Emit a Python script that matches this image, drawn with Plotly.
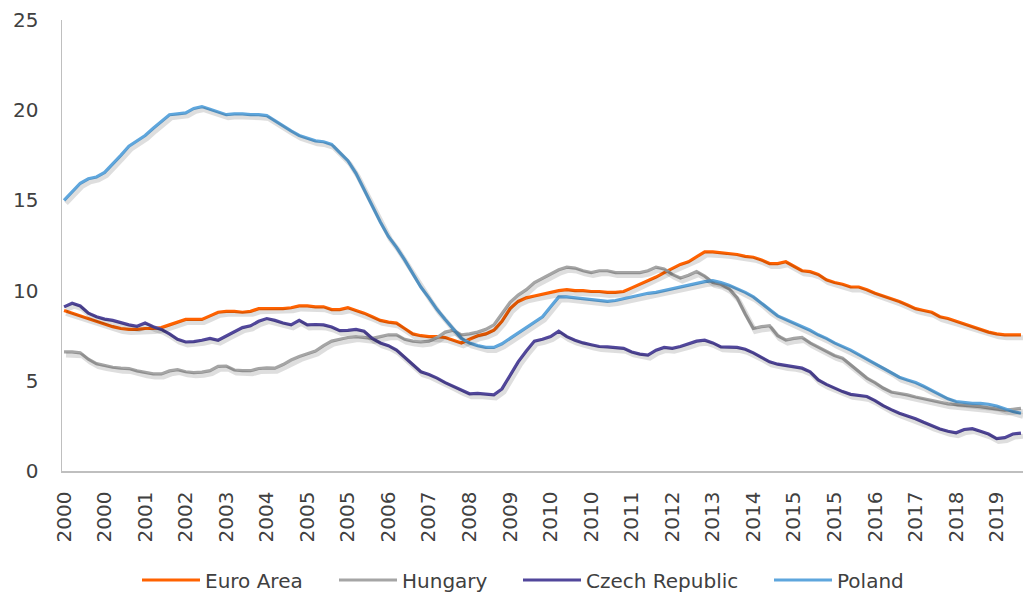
import plotly.graph_objects as go

# Monthly data Jan 2000 - Sep 2019, sampled every 2 months (month index 0,2,...,236)
month_index = list(range(0, 237, 2))

euro_area = [8.9, 8.75, 8.6, 8.45, 8.3, 8.15, 8.0, 7.9, 7.85, 7.85,
             7.9, 7.9, 7.95, 8.1, 8.25, 8.4, 8.4, 8.4, 8.6, 8.8,
             8.85, 8.85, 8.8, 8.85, 9.0, 9.0, 9.0, 9.0, 9.05, 9.15,
             9.15, 9.1, 9.1, 8.95, 8.95, 9.05, 8.9, 8.75, 8.55, 8.35,
             8.25, 8.2, 7.9, 7.6, 7.5, 7.45, 7.45, 7.4, 7.25, 7.1,
             7.3, 7.5, 7.6, 7.8, 8.3, 9.0, 9.4, 9.6, 9.7, 9.8,
             9.9, 10.0, 10.05, 10.0, 10.0, 9.95, 9.95, 9.9, 9.9, 9.95,
             10.15, 10.35, 10.55, 10.75, 11.0, 11.25, 11.45, 11.6, 11.85, 12.15,
             12.15, 12.1, 12.05, 12.0, 11.9, 11.85, 11.7, 11.5, 11.5, 11.6,
             11.35, 11.1, 11.05, 10.9, 10.6, 10.45, 10.35, 10.2, 10.2, 10.05,
             9.85, 9.7, 9.55, 9.4, 9.2, 9.0, 8.9, 8.8, 8.55, 8.45,
             8.3, 8.15, 8.0, 7.85, 7.7, 7.6, 7.55, 7.55, 7.55]

hungary = [6.6, 6.6, 6.55, 6.2, 5.95, 5.85, 5.75, 5.7, 5.68, 5.55,
           5.45, 5.38, 5.38, 5.55, 5.62, 5.5, 5.45, 5.48, 5.56, 5.8,
           5.82, 5.6, 5.56, 5.56, 5.68, 5.72, 5.7, 5.9, 6.15, 6.35,
           6.5, 6.65, 6.95, 7.2, 7.3, 7.4, 7.45, 7.4, 7.35, 7.45,
           7.55, 7.55, 7.3, 7.2, 7.15, 7.2, 7.4, 7.7, 7.8, 7.55,
           7.6, 7.7, 7.85, 8.1, 8.75, 9.35, 9.75, 10.05, 10.45, 10.7,
           10.9, 11.15, 11.3, 11.25, 11.1, 11.0, 11.1, 11.1, 11.0, 11.0,
           11.0, 11.0, 11.1, 11.3, 11.2, 10.9, 10.7, 10.85, 11.05, 10.8,
           10.45, 10.35, 10.1, 9.6, 8.7, 7.9, 8.0, 8.05, 7.5, 7.26,
           7.35, 7.4, 7.1, 6.85, 6.6, 6.4, 6.25, 5.9, 5.5, 5.15,
           4.9, 4.6, 4.38, 4.32, 4.22, 4.1, 4.0, 3.88, 3.78, 3.72,
           3.68, 3.65, 3.62, 3.57, 3.5, 3.42, 3.38, 3.42, 3.47]

czech_republic = [9.1, 9.3, 9.15, 8.75, 8.55, 8.42, 8.35, 8.22, 8.1, 8.02,
                  8.2, 8.0, 7.85, 7.6, 7.3, 7.15, 7.17, 7.25, 7.35, 7.25,
                  7.5, 7.7, 7.95, 8.05, 8.3, 8.45, 8.35, 8.2, 8.1, 8.35,
                  8.1, 8.12, 8.1, 7.98, 7.78, 7.8, 7.85, 7.75, 7.35, 7.1,
                  6.95, 6.7, 6.3, 5.85, 5.5, 5.35, 5.15, 4.9, 4.7, 4.47,
                  4.28, 4.3, 4.25, 4.22, 4.55, 5.3, 6.05, 6.65, 7.2, 7.3,
                  7.45, 7.75, 7.45, 7.25, 7.1, 7.0, 6.9, 6.88, 6.86, 6.8,
                  6.6, 6.48, 6.43, 6.7, 6.85, 6.8, 6.9, 7.05, 7.2, 7.25,
                  7.1, 6.88, 6.86, 6.85, 6.75, 6.55, 6.3, 6.05, 5.92, 5.85,
                  5.8, 5.7, 5.5, 5.05, 4.8, 4.6, 4.4, 4.25, 4.2, 4.13,
                  3.9, 3.62, 3.4, 3.2, 3.05, 2.9, 2.7, 2.5, 2.33, 2.2,
                  2.12, 2.3, 2.35, 2.2, 2.05, 1.8, 1.85, 2.05, 2.1]

poland = [15.0, 15.5, 15.95, 16.2, 16.3, 16.55, 17.0, 17.5, 18.0, 18.3,
          18.6, 19.0, 19.4, 19.75, 19.8, 19.85, 20.1, 20.2, 20.05, 19.9,
          19.75, 19.8, 19.8, 19.75, 19.75, 19.7, 19.4, 19.1, 18.85, 18.6,
          18.45, 18.3, 18.25, 18.1, 17.65, 17.2, 16.5, 15.6, 14.7, 13.8,
          13.0, 12.4, 11.7, 10.95, 10.2, 9.6, 8.95, 8.4, 7.85, 7.35,
          7.1, 6.95, 6.85, 6.85, 7.05, 7.35, 7.65, 7.9, 8.25, 8.55,
          9.1, 9.65, 9.65, 9.6, 9.55, 9.5, 9.45, 9.4, 9.45, 9.55,
          9.65, 9.75, 9.85, 9.9, 10.0, 10.1, 10.2, 10.3, 10.4, 10.5,
          10.55, 10.45, 10.3, 10.1, 9.9, 9.65, 9.3, 8.9, 8.6, 8.4,
          8.2, 8.0, 7.8, 7.55, 7.35, 7.1, 6.9, 6.7, 6.45, 6.2,
          6.0, 5.75, 5.5, 5.2, 5.05, 4.9, 4.7, 4.45, 4.25, 4.0,
          3.85, 3.8, 3.75, 3.75, 3.7, 3.6, 3.45, 3.3, 3.2]

# Category tick labels (one every 10 months)
tick_labels = ["2000", "2000", "2001", "2002", "2003", "2004", "2005", "2005",
               "2006", "2007", "2008", "2009", "2010", "2010", "2011", "2012",
               "2013", "2014", "2015", "2015", "2016", "2017", "2018", "2019"]
n_months = 237

series = [
    ("Euro Area", euro_area, "#FF6200"),
    ("Hungary", hungary, "#A5A5A5"),
    ("Czech Republic", czech_republic, "#51479B"),
    ("Poland", poland, "#5EA6DD"),
]

for name, vals, _ in series:
    assert len(vals) == len(month_index), (name, len(vals))

W, H = 1025, 593
ml, mr, mt, mb = 62, 2, 20, 122
plot_w = W - ml - mr
plot_h = H - mt - mb
x0, x1 = -0.5, n_months - 0.5
y0, y1 = 0, 25
px_per_x = plot_w / (x1 - x0)
px_per_y = plot_h / (y1 - y0)
shadow_dx, shadow_dy = 2.0, 3.0

fig = go.Figure()

# soft drop shadows (same data on offset overlay axes)
for name, vals, color in series:
    fig.add_trace(go.Scatter(
        x=month_index, y=vals, mode="lines", xaxis="x2", yaxis="y2",
        line=dict(color="rgba(0,0,0,0.13)", width=5),
        showlegend=False, hoverinfo="skip"))

legend_pos = [142, 339, 523, 774]
for i, (name, vals, color) in enumerate(series):
    lg = "legend" if i == 0 else f"legend{i+1}"
    fig.add_trace(go.Scatter(
        x=month_index, y=vals, mode="lines", name=name,
        line=dict(color=color, width=3.2), legend=lg))

font_color = "#404040"
legend_common = dict(
    orientation="h", yanchor="middle", xanchor="left",
    bgcolor="rgba(0,0,0,0)", font=dict(size=20, color=font_color,
                                       family="DejaVu Sans"),
    itemwidth=58, xref="paper", yref="paper", borderwidth=0,
)
legends = {}
for i, px in enumerate(legend_pos):
    key = "legend" if i == 0 else f"legend{i+1}"
    legends[key] = dict(legend_common, x=(px - ml - 5) / plot_w,
                        y=((H - mb) - 580) / plot_h)

fig.update_layout(
    width=W, height=H,
    margin=dict(l=ml, r=mr, t=mt, b=mb, pad=0, autoexpand=False),
    paper_bgcolor="white", plot_bgcolor="white",
    font=dict(family="DejaVu Sans", size=20, color=font_color),
    xaxis=dict(range=[x0, x1], tickmode="array",
               tickvals=[i * 10 for i in range(len(tick_labels))],
               ticktext=tick_labels, tickangle=-90, showgrid=False,
               zeroline=False, showline=True, linecolor="#BFBFBF",
               linewidth=1.5, ticks="", ticklabelstandoff=11,
               tickfont=dict(size=20), automargin=False),
    yaxis=dict(range=[y0, y1], dtick=5, showgrid=False, zeroline=False,
               showline=True, linecolor="#BFBFBF", linewidth=1.5,
               ticks="", ticklabelstandoff=18, tickfont=dict(size=20),
               automargin=False),
    xaxis2=dict(overlaying="x", range=[x0 - shadow_dx / px_per_x,
                                       x1 - shadow_dx / px_per_x],
                visible=False, anchor="y2"),
    yaxis2=dict(overlaying="y", range=[y0 + shadow_dy / px_per_y,
                                       y1 + shadow_dy / px_per_y],
                visible=False, anchor="x2"),
    hovermode=False,
    **legends,
)

fig.write_html("out.html",
               config={"displayModeBar": False, "staticPlot": True},
               post_script="document.body.style.margin='0';"
                           "document.body.style.overflow='hidden';")
